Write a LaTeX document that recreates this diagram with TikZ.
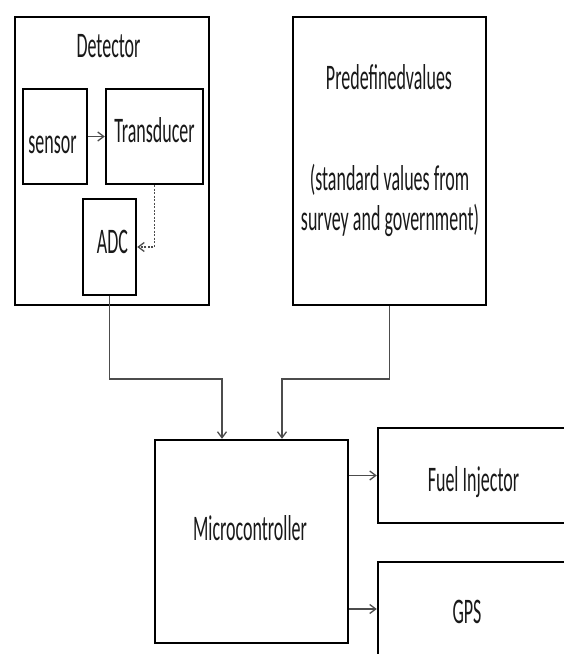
\documentclass[tikz,border=0pt]{standalone}
\usepackage{fontspec}
\setmainfont[FakeStretch=0.5]{Carlito}
\usetikzlibrary{positioning,arrows.meta,calc}

\tikzset{
  blk/.style={draw=black, line width=2.4pt, inner sep=0pt},
  lbl/.style={anchor=base, inner sep=0pt, text=black!90},
  flow/.style={draw=black!70, line width=1.3pt, -{Straight Barb[length=6pt,width=9pt]}}
}

\begin{document}
\begin{tikzpicture}[x=1pt, y=-1pt, font=\fontsize{36}{42}\selectfont]
        \useasboundingbox (0,0) rectangle (564,654);
        \clip (0,0) rectangle (564,654);
        % boxes
        \foreach \name/\x/\y/\w/\h in {det/112/161/194pt/288pt, sen/55/136.5/64pt/95pt, tra/154.5/136.5/97pt/95pt,
                adc/109.5/247/53pt/96pt, pre/389.5/161/193pt/288pt, mic/251.5/541.5/193pt/203pt,
                fue/489/475.5/222pt/95pt, gps/489/609/222pt/94pt}{\node[blk, minimum width=\w, minimum height=\h] (\name) at (\x,\y) {};}
        % texts
        \foreach \name/\x/\y/\txt in {tdet/108.5/57/Detector, tsen/52.5/153/sensor, ttra/154.5/142/Transducer,
                tadc/112.5/253/ADC, tpre/389/89/Predefinedvalues, tstd/389.5/190/(standard values from,
                tsur/390/230/survey and government), tmic/250/540/Microcontroller,
                tfue/473.5/491/Fuel Injector, tgps/467/623/GPS}{\node[lbl] (\name) at (\x,\y) {\txt};}
       \coordinate (inL) at (222,379);
       \coordinate (inR) at (282,379);
       \draw[flow] (sen.east) -- (tra.west);
       \draw[flow, dashed, dash pattern=on 2pt off 1.5pt] (tra.south) |- (adc.east);
       \draw[flow] (adc.south) |- (inL) -- (inL |- mic.north);
       \draw[flow] (pre.south) |- (inR) -- (inR |- mic.north);
       \draw[flow] (mic.east |- fue.west) -- (fue.west);
       \draw[flow] (mic.east |- gps.west) -- (gps.west);
    \end{tikzpicture}
\end{document}
